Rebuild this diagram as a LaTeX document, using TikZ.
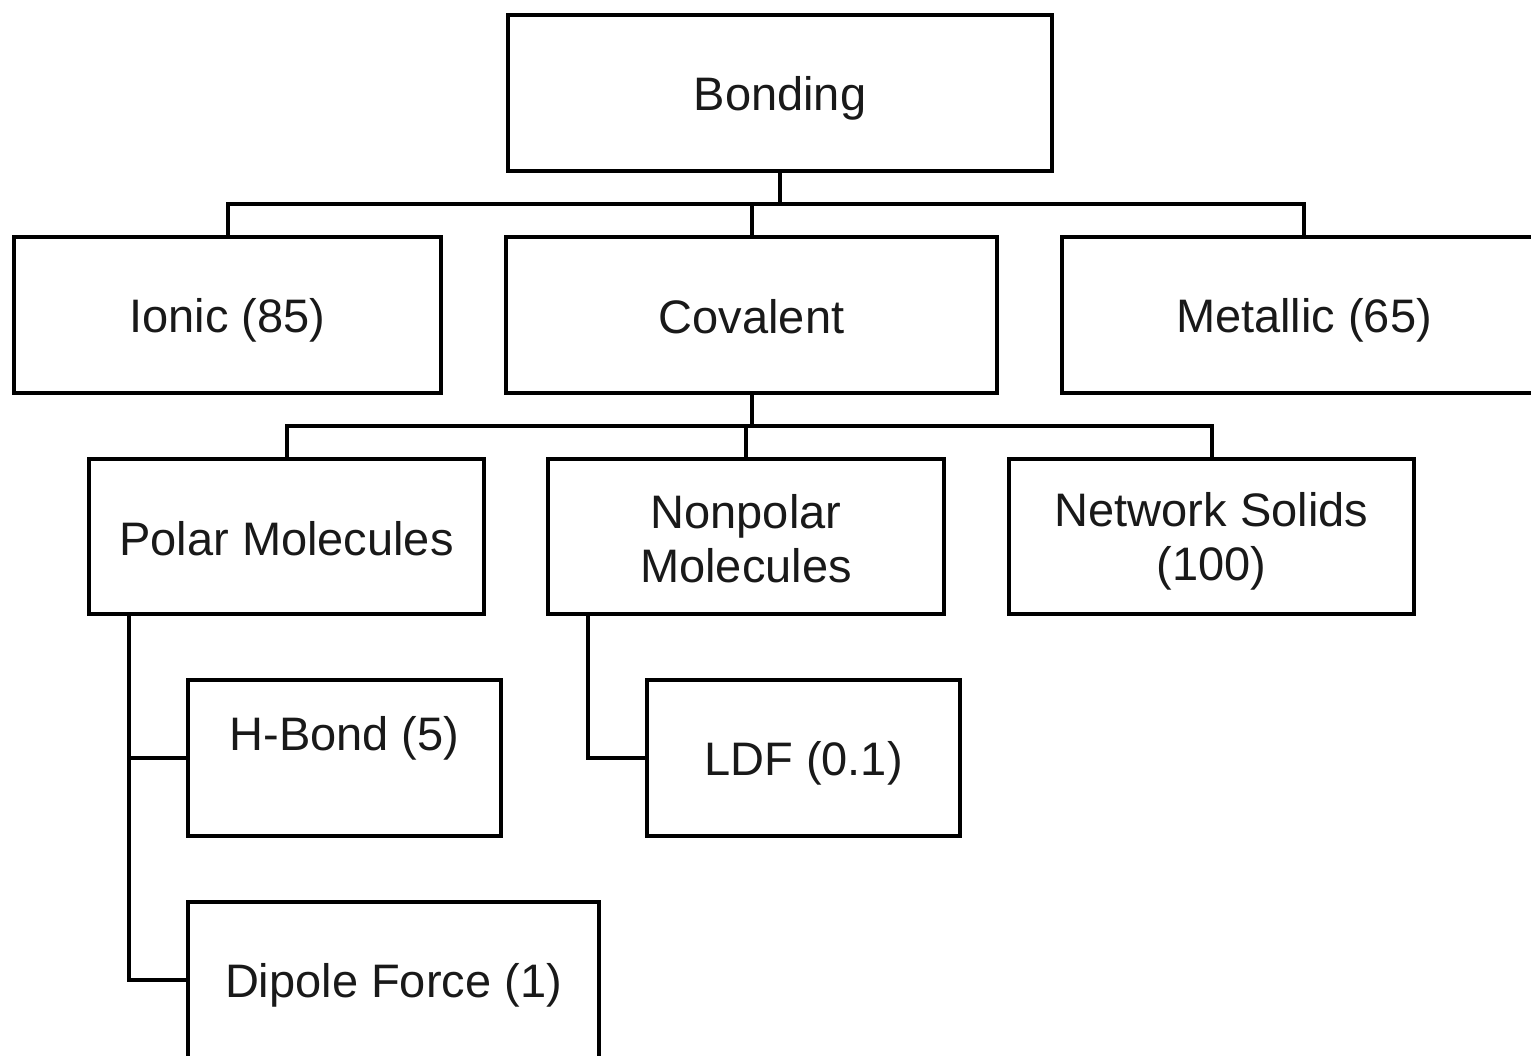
\documentclass[tikz,border=0pt]{standalone}
\usepackage{fontspec}
\setmainfont{Liberation Sans}
% fixed line strut so every label sits on the same baseline
\newcommand{\linestrut}{\rule[-6pt]{0pt}{50pt}}
\begin{document}
\begin{tikzpicture}[x=1pt,y=-1pt,
  box/.style={draw, line width=4pt, rectangle, inner sep=0pt, align=center,
    font=\fontsize{47}{54}\selectfont, text=black!90},
  link/.style={line width=4pt, line cap=rect}]
\useasboundingbox (0,0) rectangle (1531,1056);

% top level
\node[box, minimum width=544pt, minimum height=156pt] (bond) at (780,93) {\linestrut Bonding};

% bond types
\node[box, minimum width=427pt, minimum height=156pt] (ionic) at (227.5,315) {\linestrut Ionic (85)};
\node[box, minimum width=491pt, minimum height=156pt] (cov) at (751.5,315) {\linestrut Covalent};
\node[box, minimum width=484pt, minimum height=156pt] (metal) at (1304,315) {\linestrut Metallic (65)};

% covalent substances
\node[box, minimum width=395pt, minimum height=155pt] (polar) at (286.5,536.5) {\linestrut Polar Molecules};
\node[box, minimum width=396pt, minimum height=155pt] (np) at (746,536.5) {\linestrut Nonpolar\\\linestrut Molecules};
\node[box, minimum width=405pt, minimum height=155pt] (net) at (1211.5,536.5) {\linestrut Network Solids\\\linestrut (100)};

% intermolecular forces
\node[box, minimum width=313pt, minimum height=156pt] (hb) at (344.5,758) {\linestrut H-Bond (5)\\\linestrut};
\node[box, minimum width=313pt, minimum height=156pt] (ldf) at (803.5,758) {\linestrut LDF (0.1)};
\node[box, minimum width=411pt, minimum height=156pt] (dip) at (393.5,980) {\linestrut Dipole Force (1)};

% connectors: bonding
\coordinate (j1) at (780,204);
\draw[link] (bond.south) -- (bond.south |- j1);
\draw[link] (ionic.north) |- (metal.north |- j1) -- (metal.north);
\draw[link] (cov.north) -- (cov.north |- j1);

% connectors: covalent
\coordinate (j2) at (751.5,426);
\draw[link] (cov.south) -- (cov.south |- j2);
\draw[link] (polar.north) |- (net.north |- j2) -- (net.north);
\draw[link] (np.north) -- (np.north |- j2);

% connectors: forces
\coordinate (p1) at ([xshift=42pt]polar.south west);
\draw[link] (p1) |- (dip.west);
\draw[link] (hb.west) -- (hb.west -| p1);
\coordinate (n1) at ([xshift=42pt]np.south west);
\draw[link] (n1) |- (ldf.west);
\end{tikzpicture}
\end{document}
